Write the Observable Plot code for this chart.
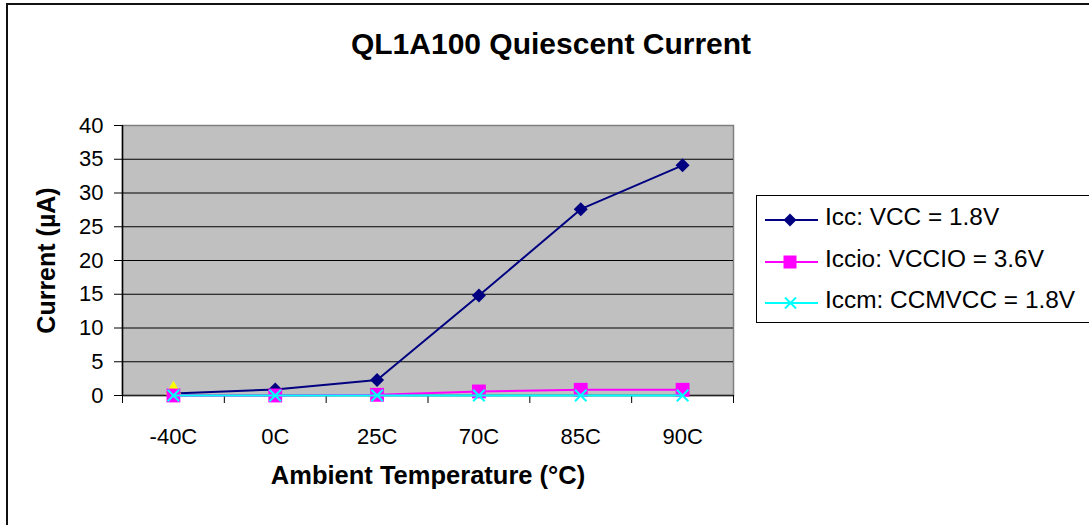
<!DOCTYPE html>
<html>
<head>
<meta charset="utf-8">
<script src="https://cdn.jsdelivr.net/npm/d3@7"></script>
<script src="https://cdn.jsdelivr.net/npm/@observablehq/plot@0.6"></script>
<style>
  html, body { margin: 0; padding: 0; background: #fff; overflow: hidden; width: 1089px; height: 525px; }
  body { font-family: "Liberation Sans", Arial, sans-serif; color: #000; }
  #wrap { position: relative; width: 1089px; height: 525px; overflow: hidden; }
  #frameBorder { position: absolute; left: 6px; top: 3px; width: 1300px; height: 800px; border: 2px solid #111; box-sizing: border-box; }
  #chart { position: absolute; left: 0; top: 0; }
  #title { position: absolute; left: 551px; top: 29px; transform: translateX(-50%); white-space: nowrap;
           font-weight: bold; font-size: 30px; line-height: 1; }
  #legend { position: absolute; left: 756px; top: 195px; width: 400px; height: 128px; border: 1px solid #000; background: #fff; box-sizing: border-box; }
  .lg-sample { position: absolute; left: 765px; width: 54px; height: 16px; overflow: visible; }
  .lg-text { position: absolute; left: 825px; font-size: 24.4px; line-height: 1; white-space: nowrap; }
</style>
</head>
<body>
<div id="wrap">
  <div id="frameBorder"></div>
  <div id="chart"></div>
  <div id="title"></div>
  <div id="legend"></div>
</div>
<script>
// ---- data ----
const chartTitle = "QL1A100 Quiescent Current";
const xTitle = "Ambient Temperature (°C)";
const yTitle = "Current (µA)";
const categories = ["-40C", "0C", "25C", "70C", "85C", "90C"];
const yTicks = [0, 5, 10, 15, 20, 25, 30, 35, 40];
const seriesNames = ["Icc: VCC = 1.8V", "Iccio: VCCIO = 3.6V", "Iccm: CCMVCC = 1.8V"];
const icc   = [0.3, 0.9, 2.3, 14.8, 27.6, 34.1];
const iccio = [0.0, 0.0, 0.1, 0.6, 0.85, 0.85];
const iccm  = [0.0, 0.0, 0.0, 0.0, 0.0, 0.0];
const extraCategories = ["-40C"];
const extraValues = [0.8];

const seriesColors = ["#000080", "#FF00FF", "#00FFFF"];
const xi = (c) => categories.indexOf(c) + 0.5;

document.getElementById("title").textContent = chartTitle;

const font = "'Liberation Sans', Arial, sans-serif";

const lineMarks = (vals, color) => Plot.line(vals, {x: (d, i) => i + 0.5, y: d => d, stroke: color, strokeWidth: 2});

const chart = Plot.plot({
  width: 1089,
  height: 525,
  marginTop: 125,
  marginBottom: 130,
  marginLeft: 122,
  marginRight: 356,
  style: {fontFamily: font, color: "#000", background: "transparent", overflow: "visible"},
  x: {domain: [0, categories.length], axis: null},
  y: {domain: [0, 40], axis: null},
  marks: [
    Plot.frame({fill: "#C0C0C0", stroke: "#808080", strokeWidth: 1.5}),
    Plot.gridY(yTicks.filter(v => v > 0 && v < 40), {stroke: "#000", strokeOpacity: 1, strokeWidth: 1}),
    Plot.ruleX([0], {stroke: "#000", strokeWidth: 1.5}),
    Plot.ruleY([0], {stroke: "#222", strokeWidth: 1.5}),
    Plot.axisY({ticks: yTicks, tickSize: 8, tickPadding: 11, fontSize: 22, label: null, stroke: "#000"}),
    Plot.axisX({ticks: d3.range(0, categories.length + 1), tickSize: 8, tickFormat: () => "", label: null, stroke: "#000"}),
    Plot.axisX({ticks: categories.map((_, i) => i + 0.5), tickSize: 0, tickPadding: 33, tickFormat: d => categories[Math.round(d - 0.5)], fontSize: 22, label: null}),
    Plot.text([yTitle], {frameAnchor: "left", dx: -85, rotate: -90, textAnchor: "middle", lineAnchor: "top", fontWeight: "bold", fontSize: 25, fill: "#000"}),
    Plot.text([xTitle], {frameAnchor: "bottom", dy: 88, textAnchor: "middle", lineAnchor: "bottom", fontWeight: "bold", fontSize: 25.5, fill: "#000"}),
    // Icc
    lineMarks(icc, seriesColors[0]),
    Plot.dot(icc, {x: (d, i) => i + 0.5, y: d => d, symbol: "diamond2", fill: seriesColors[0], stroke: null, r: 6.3}),
    // extra single point
    Plot.dot(extraValues, {x: (d, i) => xi(extraCategories[i]), y: d => d, symbol: "triangle", fill: "#FFFF00", stroke: null, r: 6}),
    // Iccio
    lineMarks(iccio, seriesColors[1]),
    Plot.dot(iccio, {x: (d, i) => i + 0.5, y: d => d, symbol: "square", fill: seriesColors[1], stroke: null, r: 7.8}),
    // Iccm
    lineMarks(iccm, seriesColors[2]),
    Plot.dot(iccm, {x: (d, i) => i + 0.5, y: d => d, symbol: "times", stroke: seriesColors[2], strokeWidth: 2, r: 5.3})
  ]
});
document.getElementById("chart").appendChild(chart);

// ---- legend ----
const wrap = document.getElementById("wrap");
const lineYs = [220, 262, 303];
const symbols = ["diamond", "square", "times"];
seriesNames.forEach((name, k) => {
  const svg = d3.create("svg").attr("class", "lg-sample").attr("width", 54).attr("height", 16)
    .style("top", (lineYs[k] - 8) + "px");
  svg.append("line").attr("x1", 0).attr("x2", 53).attr("y1", 8).attr("y2", 8)
    .attr("stroke", seriesColors[k]).attr("stroke-width", 2);
  if (symbols[k] === "diamond") {
    svg.append("path").attr("d", "M25,1.5L31.5,8L25,14.5L18.5,8Z").attr("fill", seriesColors[k]);
  } else if (symbols[k] === "square") {
    svg.append("rect").attr("x", 18.5).attr("y", 1.5).attr("width", 13).attr("height", 13).attr("fill", seriesColors[k]);
  } else {
    svg.append("path").attr("d", "M20,2.5L31,13.5M31,2.5L20,13.5").attr("stroke", seriesColors[k]).attr("stroke-width", 2);
  }
  wrap.appendChild(svg.node());
  const t = document.createElement("div");
  t.className = "lg-text";
  t.style.top = (lineYs[k] - 15.5) + "px";
  t.textContent = name;
  wrap.appendChild(t);
});
</script>
</body>
</html>
